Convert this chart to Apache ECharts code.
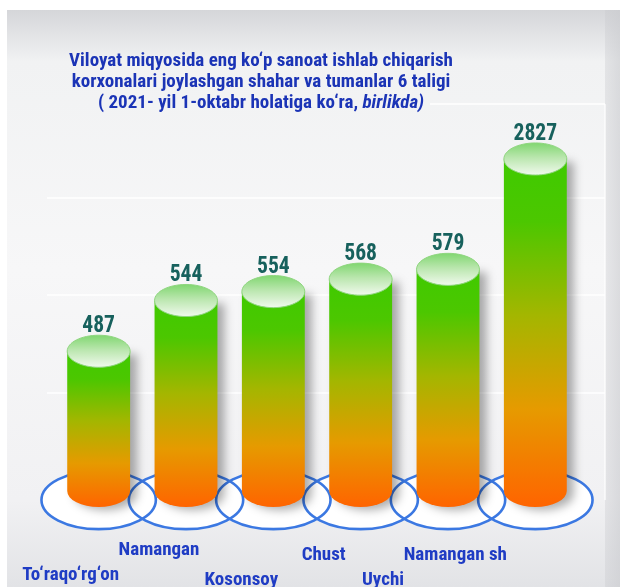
<!DOCTYPE html>
<html>
<head>
<meta charset="utf-8">
<script src="https://cdn.jsdelivr.net/npm/echarts@6/dist/echarts.min.js"></script>
<style>
  html, body { margin: 0; padding: 0; background: #ffffff; }
  #chart { width: 620px; height: 587px; }
</style>
</head>
<body>
<div id="chart"></div>
<script>
// Districts / cities and their number of industrial enterprises (units)
const categories = ['To‘raqo‘rg‘on', 'Namangan', 'Kosonsoy', 'Chust', 'Uychi', 'Namangan sh'];
const enterprises = [487, 544, 554, 568, 579, 2827];

// Title lines
const titleLine1 = 'Viloyat miqyosida eng ko‘p sanoat ishlab chiqarish';
const titleLine2 = 'korxonalari joylashgan shahar va tumanlar 6 taligi';
const titleLine3 = '( 2021- yil 1-oktabr holatiga ko‘ra, ';
const titleUnit = 'birlikda)';

// Staggered category names: sideways shift and extra drop per label (px)
const labelShiftX = [-28, -27, -32, -37, -65, -80];
const labelDropY = [25, 0, 30, 5, 30, 5];

// Value axis: starts above zero and skips the empty stretch below the largest value
const Y_MIN = 330;
const Y_MAX = 2900;
const Y_BREAK = { start: 600, end: 2800, gap: 76 };

const FONT = "'Liberation Sans Narrow', 'Roboto Condensed', 'DejaVu Sans Condensed', 'Arial Narrow', sans-serif";

const chart = echarts.init(document.getElementById('chart'), null, { renderer: 'canvas' });

// A token's text sits in the middle of its padded box, so the top padding is doubled
// to move the name down by the full drop; right padding pulls a centred name left.
const rich = {};
labelShiftX.forEach((dx, i) => {
  rich['c' + i] = {
    color: '#1f3cc4',
    fontFamily: FONT,
    fontWeight: 'bold',
    fontSize: 19,
    lineHeight: 22,
    padding: [2 * labelDropY[i], dx < 0 ? -2 * dx : 0, 0, dx > 0 ? 2 * dx : 0]
  };
});

function renderCylinder(params, api) {
  const idx = api.value(0);
  const val = api.value(1);
  const top = api.coord([idx, val]);
  const bottom = api.coord([idx, Y_MIN]);
  const band = api.size([1, 0])[0];
  const cx = top[0];
  const rx = band * 0.36;
  const ry = rx * 0.51;
  const baseRx = band * 0.655;
  const baseRy = baseRx * 0.51;

  const bodyPath =
    'M' + (cx - rx) + ' ' + top[1] +
    ' L' + (cx - rx) + ' ' + bottom[1] +
    ' A' + rx + ' ' + ry + ' 0 0 0 ' + (cx + rx) + ' ' + bottom[1] +
    ' L' + (cx + rx) + ' ' + top[1] + ' Z';

  return {
    type: 'group',
    children: [
      {
        type: 'ellipse',
        z2: 0,
        shape: { cx: cx, cy: bottom[1] + 9, rx: baseRx, ry: baseRy },
        style: { fill: '#ffffff' }
      },
      {
        type: 'ellipse',
        z2: 1,
        shape: { cx: cx, cy: bottom[1] + 9, rx: baseRx, ry: baseRy },
        style: { fill: 'none', stroke: '#3b78e2', lineWidth: 2.6 }
      },
      {
        type: 'path',
        z2: 2,
        shape: { pathData: bodyPath },
        style: {
          fill: new echarts.graphic.LinearGradient(0, 0, 0, 1, [
            { offset: 0, color: '#3fca00' },
            { offset: 0.18, color: '#4cc700' },
            { offset: 0.45, color: '#a4b600' },
            { offset: 0.72, color: '#e69a00' },
            { offset: 1, color: '#ff6400' }
          ]),
          shadowBlur: 10,
          shadowOffsetX: 7,
          shadowOffsetY: 3,
          shadowColor: 'rgba(0,0,0,0.32)'
        }
      },
      {
        type: 'ellipse',
        z2: 3,
        shape: { cx: cx, cy: top[1], rx: rx, ry: ry },
        style: {
          fill: new echarts.graphic.LinearGradient(0, 0, 0, 1, [
            { offset: 0, color: '#7fd66f' },
            { offset: 0.45, color: '#b9e6ad' },
            { offset: 1, color: '#f2faef' }
          ]),
          stroke: '#8fd67f',
          lineWidth: 1
        }
      },
      {
        type: 'text',
        z2: 4,
        x: cx,
        y: top[1] - ry + 3,
        scaleX: 0.9,
        style: {
          text: String(val),
          fill: '#17615d',
          fontFamily: FONT,
          fontWeight: 'bold',
          fontSize: 24,
          align: 'center',
          verticalAlign: 'bottom'
        }
      }
    ]
  };
}

const option = {
  animation: false,
  backgroundColor: '#ffffff',
  title: {
    left: 256,
    top: 46,
    textAlign: 'center',
    text:
      '{a|' + titleLine1 + '}\n{a|' + titleLine2 + '}\n{a|' + titleLine3 + '}{b|' + titleUnit + '}',
    textStyle: {
      rich: {
        a: { color: '#1b34b6', fontFamily: FONT, fontWeight: 'bold', fontSize: 19, lineHeight: 21 },
        b: { color: '#1b34b6', fontFamily: FONT, fontWeight: 'bold', fontStyle: 'italic', fontSize: 19, lineHeight: 21 }
      }
    }
  },
  graphic: [
    {
      type: 'rect',
      z: -20,
      shape: { x: 7, y: 10, width: 613, height: 577 },
      style: {
        fill: new echarts.graphic.LinearGradient(0, 0, 0, 1, [
          { offset: 0, color: '#d5d6d9' },
          { offset: 0.09, color: '#f1f2f3' },
          { offset: 0.45, color: '#f7f7f8' },
          { offset: 0.85, color: '#f1f1f3' },
          { offset: 1, color: '#e2e3e6' }
        ])
      }
    },
    {
      type: 'rect',
      z: -19,
      shape: { x: 605, y: 10, width: 15, height: 577 },
      style: {
        fill: new echarts.graphic.LinearGradient(0, 0, 1, 0, [
          { offset: 0, color: 'rgba(200,201,205,0.35)' },
          { offset: 1, color: 'rgba(200,201,205,0.6)' }
        ])
      }
    },
    { type: 'line', z: -18, shape: { x1: 430, y1: 104, x2: 605, y2: 104 }, style: { stroke: '#ffffff', lineWidth: 1.5 } },
    { type: 'line', z: -18, shape: { x1: 47, y1: 198, x2: 605, y2: 198 }, style: { stroke: '#ffffff', lineWidth: 1.5 } },
    { type: 'line', z: -18, shape: { x1: 47, y1: 295, x2: 605, y2: 295 }, style: { stroke: '#ffffff', lineWidth: 1.5 } },
    { type: 'line', z: -18, shape: { x1: 47, y1: 393, x2: 605, y2: 393 }, style: { stroke: '#ffffff', lineWidth: 1.5 } },
    { type: 'line', z: -18, shape: { x1: 605, y1: 104, x2: 605, y2: 500 }, style: { stroke: '#ffffff', lineWidth: 1.2 } }
  ],
  grid: { left: 55, right: 41, top: 94, bottom: 96, containLabel: false, outerBoundsMode: 'none' },
  xAxis: {
    type: 'category',
    data: categories,
    axisLine: { show: false },
    axisTick: { show: false },
    splitLine: { show: false },
    axisLabel: {
      interval: 0,
      hideOverlap: false,
      margin: 48,
      formatter: (value, index) => '{c' + index + '|' + value + '}',
      rich: rich
    }
  },
  yAxis: {
    type: 'value',
    min: Y_MIN,
    max: Y_MAX,
    show: false,
    splitLine: { show: false },
    breaks: [Y_BREAK],
    breakArea: { show: false }
  },
  series: [
    {
      type: 'custom',
      renderItem: renderCylinder,
      encode: { x: 0, y: 1 },
      data: enterprises.map((v, i) => [i, v]),
      clip: false
    }
  ]
};

chart.setOption(option);
</script>
</body>
</html>
